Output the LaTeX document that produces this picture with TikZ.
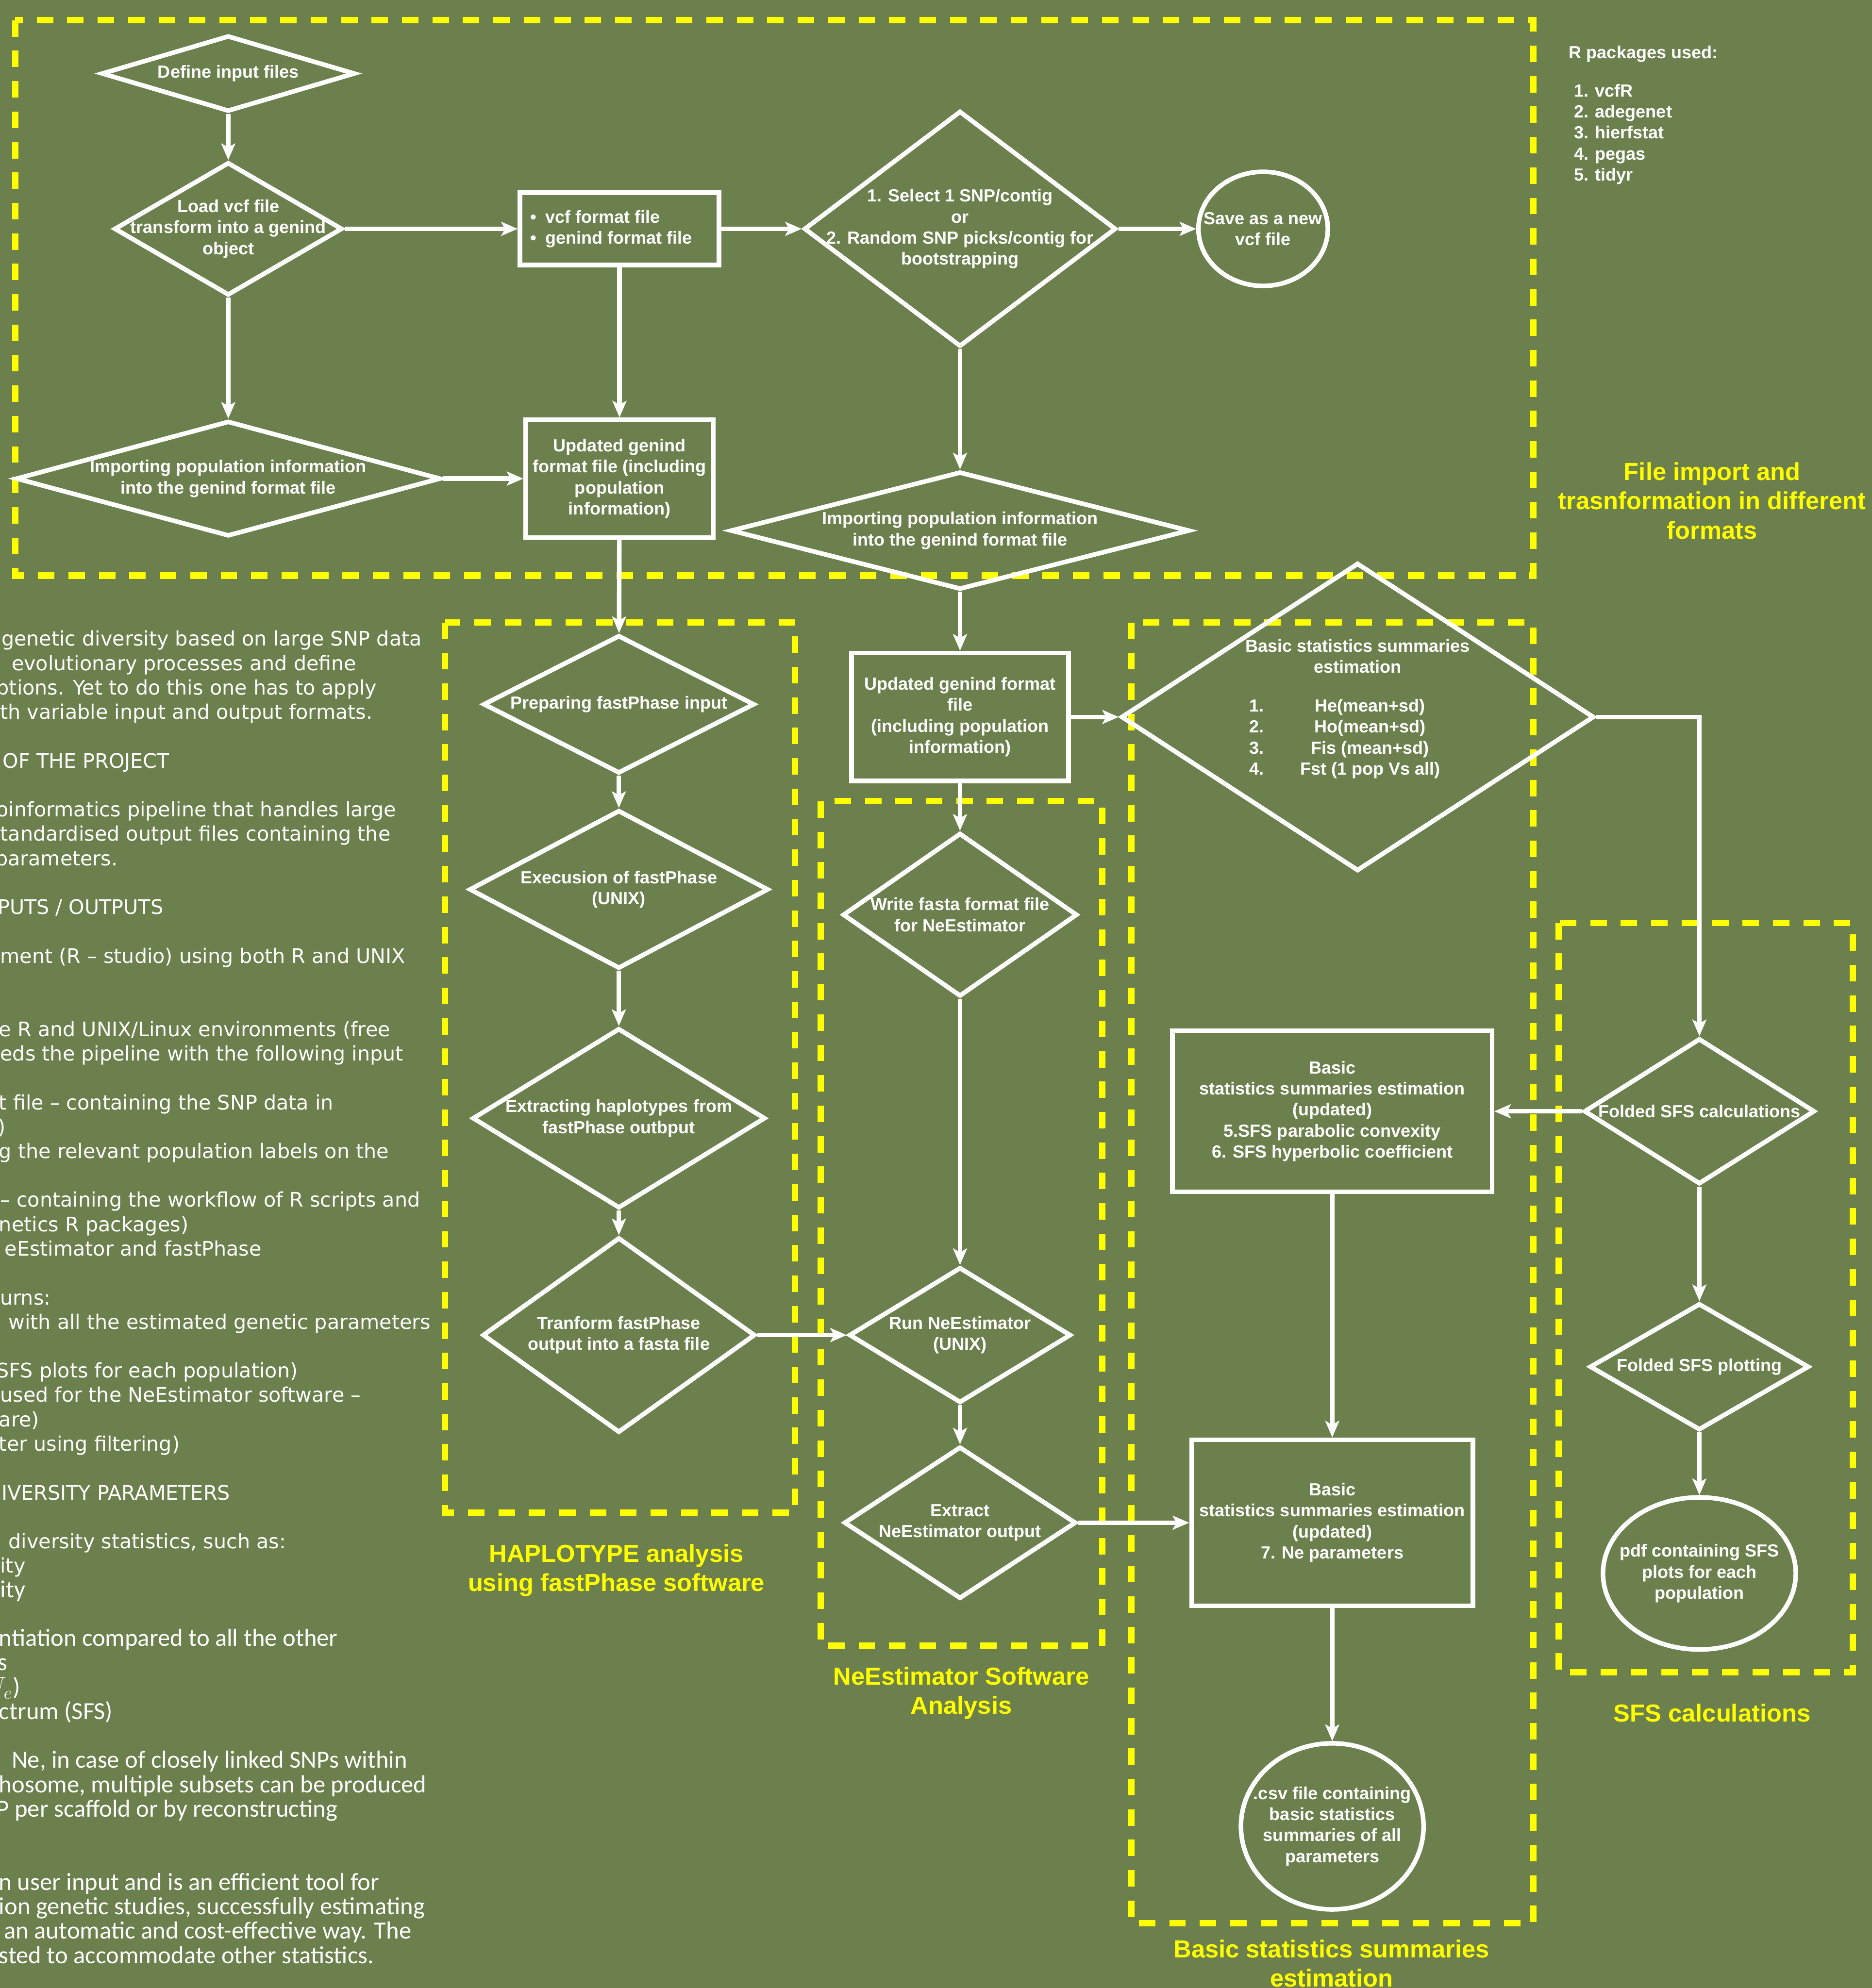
\documentclass[tikz,border=0pt]{standalone}
\usepackage{fontspec}
\setmainfont{Liberation Sans}
\newfontfamily\notefont{DejaVu Sans}
\newfontfamily\calfont{Carlito}
\usetikzlibrary{shapes.geometric,arrows.meta}

\definecolor{bgolive}{RGB}{107,128,76}
\definecolor{dashyellow}{RGB}{255,255,0}

\tikzset{
  flow/.style={draw=white, line width=3.6pt, inner sep=0pt},
  dec/.style={flow, diamond},
  term/.style={flow, ellipse},
  proc/.style={flow, rectangle, text=white, align=center,
    font=\bfseries\fontsize{13.8}{16.6}\selectfont},
  txt/.style={text=white, align=center, inner sep=0pt,
    font=\bfseries\fontsize{13.8}{16.6}\selectfont},
  arr/.style={draw=white, line width=3.6pt,
    -{Stealth[length=13pt,width=11pt,inset=3pt]}},
  group/.style={draw=dashyellow, line width=5pt, dash pattern=on 13pt off 11pt},
  grouplbl/.style={text=dashyellow, align=center, inner sep=0pt,
    font=\bfseries\fontsize{19.4}{23}\selectfont},
  note/.style={text=white, anchor=base west, inner sep=0pt,
    font=\notefont\fontsize{15.8}{19.3}\selectfont},
  notecal/.style={note, font=\calfont\fontsize{19.4}{19.3}\selectfont},
}

\begin{document}
\begin{tikzpicture}[x=1pt,y=1pt,yscale=-1]
\useasboundingbox (0,0) rectangle (1476,1568);
\fill[bgolive] (0,0) rectangle (1476,1568);
\clip (0,0) rectangle (1476,1568);

% dashed groups
\draw[group] (12,16) rectangle (1209,454);
\draw[group] (351,491) rectangle (627,1193);
\draw[group] (647,632) rectangle (869,1298);
\draw[group] (892,491) rectangle (1209,1517);
\draw[group] (1229,728) rectangle (1461,1319);

% file import
\node[dec, minimum width=200pt, minimum height=60pt] (def) at (180,58) {};
\node[dec, minimum width=180pt, minimum height=105pt] (load) at (180,180.5) {};
\node[dec, minimum width=335pt, minimum height=91pt] (imp1) at (180,377.5) {};
\node[proc, minimum width=157pt, minimum height=57pt] (vcfbox) at (488.5,180.5) {};
\node[proc, minimum width=148pt, minimum height=93pt] (upd1) at (488.5,377.5)
  {Updated genind\\format file (including\\population\\information)};
\node[dec, minimum width=246pt, minimum height=186pt] (sel) at (757,180.5) {};
\node[term, minimum width=102pt, minimum height=90pt] (save) at (996,180.5) {};
\node[dec, minimum width=362pt, minimum height=93pt] (imp2) at (757,418.5) {};
\node[proc, minimum width=171pt, minimum height=101pt] (upd2) at (757,565.5)
  {Updated genind format\\file\\(including population\\information)};

% basic statistics
\node[dec, minimum width=373pt, minimum height=243pt] (bs) at (1070.5,565.5) {};
\node[proc, minimum width=252pt, minimum height=127pt] (bsup1) at (1050.5,876.5)
  {Basic\\statistics summaries estimation\\(updated)\\5.SFS parabolic convexity\\6. SFS hyperbolic coefficient};
\node[proc, minimum width=222pt, minimum height=131pt] (bsup2) at (1050.5,1201)
  {Basic\\statistics summaries estimation\\(updated)\\7. Ne parameters};
\node[term, minimum width=144pt, minimum height=131pt] (csv) at (1050.5,1440.5) {};

% haplotypes
\node[dec, minimum width=214pt, minimum height=109pt] (prep) at (488,555.5) {};
\node[dec, minimum width=236pt, minimum height=125pt] (exec) at (488,701.5) {};
\node[dec, minimum width=231pt, minimum height=142pt] (hapx) at (488,882) {};
\node[dec, minimum width=215pt, minimum height=154pt] (tfa) at (488,1053) {};

% NeEstimator
\node[dec, minimum width=185pt, minimum height=129pt] (fasta) at (757,721.5) {};
\node[dec, minimum width=175pt, minimum height=107pt] (rune) at (757,1053) {};
\node[dec, minimum width=183pt, minimum height=120pt] (exne) at (757,1201) {};

% SFS
\node[dec, minimum width=182pt, minimum height=115pt] (sfsc) at (1340,876.5) {};
\node[dec, minimum width=173pt, minimum height=100pt] (sfsp) at (1340,1078) {};
\node[term, minimum width=152pt, minimum height=120pt] (pdf) at (1340,1241) {};

% Text Node
\node[txt] (def-t) at (def) {Define input files};
\node[txt] (load-t) at (load) {Load vcf file\\transform into a genind\\object};
\node[txt] (imp1-t) at (imp1) {Importing population information\\into the genind format file};
\node[txt, align=left, anchor=west] (vcfbox-t) at (418,180.5)
  {\textbullet\hspace{7pt}vcf format file\\\textbullet\hspace{7pt}genind format file};
\node[txt] (sel-t) at (sel) {1. Select 1 SNP/contig\\or\\2. Random SNP picks/contig for\\bootstrapping};
\node[txt] (save-t) at (save) {Save as a new\\vcf file};
\node[txt] (imp2-t) at (imp2) {Importing population information\\into the genind format file};
\node[txt] (bs-t) at (1070.5,517.5) {Basic statistics summaries\\estimation};
\node[txt, anchor=north west] (bs-l) at (985,549.5)
  {\begin{tabular}{@{}p{40pt}@{}c@{}}
   1.&He(mean+sd)\\ 2.&Ho(mean+sd)\\ 3.&Fis (mean+sd)\\ 4.&Fst (1 pop Vs all)
   \end{tabular}};
\node[txt] (csv-t) at (csv) {.csv file containing\\basic statistics\\summaries of all\\parameters};
\node[txt] (prep-t) at (prep) {Preparing fastPhase input};
\node[txt] (exec-t) at (exec) {Execusion of fastPhase\\(UNIX)};
\node[txt] (hapx-t) at (hapx) {Extracting haplotypes from\\fastPhase outbput};
\node[txt] (tfa-t) at (tfa) {Tranform fastPhase\\output into a fasta file};
\node[txt] (fasta-t) at (fasta) {Write fasta format file\\for NeEstimator};
\node[txt] (rune-t) at (rune) {Run NeEstimator\\(UNIX)};
\node[txt] (exne-t) at (exne) {Extract\\NeEstimator output};
\node[txt] (sfsc-t) at (sfsc) {Folded SFS calculations};
\node[txt] (sfsp-t) at (sfsp) {Folded SFS plotting};
\node[txt] (pdf-t) at (pdf) {pdf containing SFS\\plots for each\\population};

% connectors
\draw[arr] (def) -- (load);
\draw[arr] (load) -- (vcfbox);
\draw[arr] (load) -- (imp1);
\draw[arr] (vcfbox) -- (sel);
\draw[arr] (vcfbox) -- (upd1);
\draw[arr] (imp1) -- (upd1);
\draw[arr] (sel) -- (save);
\draw[arr] (sel) -- (imp2);
\draw[arr] (upd1) -- (prep);
\draw[arr] (imp2) -- (upd2);
\draw[arr] (upd2) -- (bs);
\draw[arr] (upd2) -- (fasta);
\draw[arr] (prep) -- (exec);
\draw[arr] (exec) -- (hapx);
\draw[arr] (hapx) -- (tfa);
\draw[arr] (tfa) -- (rune);
\draw[arr] (fasta) -- (rune);
\draw[arr] (rune) -- (exne);
\draw[arr] (exne) -- (bsup2);
\draw[arr] (bs.east) -| (sfsc.north);
\draw[arr] (sfsc) -- (bsup1);
\draw[arr] (sfsc) -- (sfsp);
\draw[arr] (sfsp) -- (pdf);
\draw[arr] (bsup1) -- (bsup2);
\draw[arr] (bsup2) -- (csv);

% group labels
\node[grouplbl] (fileimp-l) at (1350,395) {File import and\\trasnformation in different\\formats};
\node[grouplbl] (hap-l) at (486,1238.5) {HAPLOTYPE analysis\\using fastPhase software};
\node[grouplbl] (ne-l) at (758,1335.5) {NeEstimator Software\\Analysis};
\node[grouplbl] (bs-lbl) at (1050,1548.5) {Basic statistics summaries\\estimation};
\node[grouplbl] (sfs-l) at (1350,1351) {SFS calculations};

% R packages
\node[txt, anchor=base west] (rpk) at (1237,46) {R packages used:};
\node[txt, align=left, anchor=north west] (rpk-l) at (1241,66)
  {1. vcfR\\2. adegenet\\3. hierfstat\\4. pegas\\5. tidyr};

% description text
\node[note] (n0) at (1,509.5) {genetic diversity based on large SNP data};
\node[note] (n1) at (9,528.7) {evolutionary processes and define};
\node[note] (n2) at (-3,548) {ptions. Yet to do this one has to apply};
\node[note] (n3) at (0,567.2) {th variable input and output formats.};
\node[note] (n5) at (2,605.7) {OF THE PROJECT};
\node[note] (n7) at (-3,644.2) {oinformatics pipeline that handles large};
\node[note] (n8) at (0,663.4) {tandardised output files containing the};
\node[note] (n9) at (-4,682.7) {parameters.};
\node[note] (n11) at (-2,721.1) {PUTS / OUTPUTS};
\node[note] (n13) at (0,759.6) {ment (R – studio) using both R and UNIX};
\node[note] (n16) at (-1,817.3) {e R and UNIX/Linux environments (free};
\node[note] (n17) at (0,836.6) {eds the pipeline with the following input};
\node[note] (n19) at (-1,875.1) {t file – containing the SNP data in};
\node[note] (n20) at (-2,894.3) {)};
\node[note] (n21) at (-1,913.5) {g the relevant population labels on the};
\node[note] (n23) at (0,952) {– containing the workflow of R scripts and};
\node[note] (n24) at (-1,971.3) {netics R packages)};
\node[note] (n25) at (3.5,990.5) {eEstimator and fastPhase};
\node[note] (n27) at (0,1029) {urns:};
\node[note] (n28) at (6.5,1048.2) {with all the estimated genetic parameters};
\node[note] (n30) at (-3,1086.7) {SFS plots for each population)};
\node[note] (n31) at (0,1105.9) {used for the NeEstimator software –};
\node[note] (n32) at (-1,1125.2) {are)};
\node[note] (n33) at (-1,1144.4) {ter using filtering)};
\node[note] (n35) at (1,1182.9) {IVERSITY PARAMETERS};
\node[note] (n37) at (6.5,1221.4) {diversity statistics, such as:};
\node[note] (n38) at (0,1240.6) {ity};
\node[notecal] (n39) at (0,1259.9) {ity};
\node[notecal] (n41) at (-1,1298.3) {ntiation compared to all the other};
\node[notecal] (n42) at (-2,1317.6) {s};
\node[notecal] (n43) at (0,1336.8) {\hspace*{-13.5pt}$N_e$)};
\node[notecal] (n44) at (-1,1356.1) {ctrum (SFS)};
\node[notecal] (n46) at (9,1394.5) {Ne, in case of closely linked SNPs within};
\node[notecal] (n47) at (-1,1413.8) {hosome, multiple subsets can be produced};
\node[notecal] (n48) at (-3,1433) {P per scaffold or by reconstructing};
\node[notecal] (n51) at (-1,1490.7) {n user input and is an efficient tool for};
\node[notecal] (n52) at (-1,1510) {ion genetic studies, successfully estimating};
\node[notecal] (n53) at (3,1529.2) {an automatic and cost-effective way. The};
\node[notecal] (n54) at (-1,1548.5) {sted to accommodate other statistics.};

\end{tikzpicture}
\end{document}
